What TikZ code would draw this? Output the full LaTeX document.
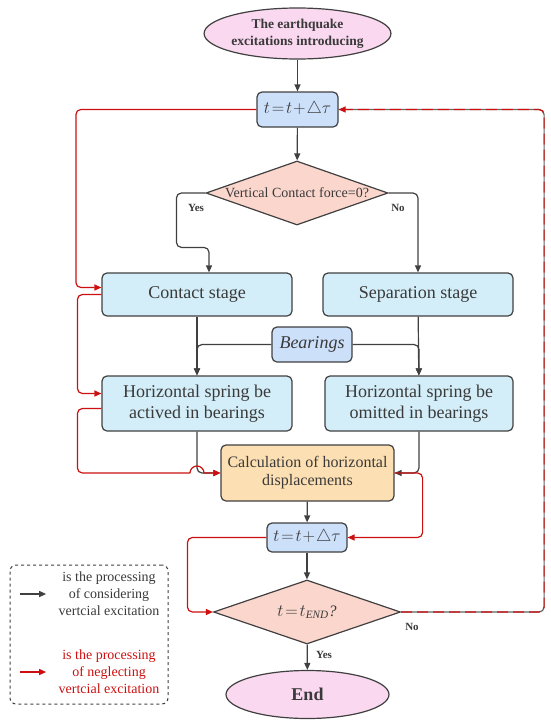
\documentclass[tikz,border=0pt]{standalone}
\usepackage{fontspec}
\setmainfont{Liberation Serif}
\usetikzlibrary{shapes.geometric, arrows.meta, positioning, calc}

\definecolor{linegray}{HTML}{404040}
\definecolor{txtgray}{HTML}{3A3A3A}
\definecolor{loopred}{HTML}{CC1010}
\definecolor{termpink}{HTML}{FAD8F0}
\definecolor{stepblue}{HTML}{CCE0FA}
\definecolor{decpink}{HTML}{FAD6CC}
\definecolor{stagecyan}{HTML}{D3EEF8}
\definecolor{calcorange}{HTML}{FCDFB2}

\begin{document}
\begin{tikzpicture}[
  x=1pt, y=1pt,
  every node/.style={text=txtgray},
  base/.style={draw=linegray, line width=1.2pt, align=center, inner sep=0pt},
  box/.style={base, rectangle, rounded corners=5pt, minimum width=190pt, minimum height=43pt, fill=stagecyan, font=\fontsize{18}{21}\selectfont},
  tbox/.style={box, minimum width=81pt, minimum height=35pt, fill=stepblue},
  decision/.style={base, diamond, shape aspect=2.8, fill=decpink},
  terminal/.style={base, ellipse, fill=termpink, minimum width=163pt},
  arrow/.style={-{Triangle[length=7pt,width=6pt]}, line width=1.2pt, draw=linegray, rounded corners=5pt},
  redarrow/.style={arrow, draw=loopred},
  lbl/.style={font=\bfseries\fontsize{11}{13}\selectfont},
  keytext/.style={align=center, font=\fontsize{14}{17}\selectfont}
]
\useasboundingbox (0,0) rectangle (550,-720);

\node (start) [terminal, minimum height=51pt, font=\bfseries\fontsize{13.5}{17}\selectfont] at (297.5,-33.5) {The earthquake\\excitations introducing};
\node (t1) [tbox] at (297.5,-109.5) {$t\!=\!t\!+\!\triangle\tau$};
\node (d1) [decision, minimum width=182pt, minimum height=64pt, font=\fontsize{14}{16}\selectfont] at (297,-193) {Vertical Contact force=0?};
\node (cont) [box] at (197,-294.5) {Contact stage};
\node (sep) [box] at (418,-294.5) {Separation stage};
\node (bear) [tbox, minimum width=80pt, font=\itshape\fontsize{18}{21}\selectfont] at (312,-344.5) {Bearings};
\node (act) [box, minimum height=55pt] at (197,-403.5) {Horizontal spring be\\actived in bearings};
\node (omit) [box, minimum width=188pt, minimum height=55pt] at (419,-403.5) {Horizontal spring be\\omitted in bearings};
\node (calc) [box, minimum width=173pt, minimum height=56pt, fill=calcorange, font=\fontsize{16}{18}\selectfont] at (307.5,-473) {Calculation of horizontal\\displacements};
\node (t2) [tbox, minimum width=80pt, minimum height=29pt] at (307,-537.5) {$t\!=\!t\!+\!\triangle\tau$};
\node (d2) [decision, minimum width=187pt, minimum height=64pt, font=\itshape\fontsize{16}{18}\selectfont] at (307,-612) {$t\!=\!t_{\mathit{END}}$?};
\node (finish) [terminal, minimum height=48pt, font=\bfseries\fontsize{18}{21}\selectfont] at (307.5,-694.5) {End};

% labels on the branches
\node (yes1) [lbl] at (196,-208) {Yes};
\node (no1) [lbl] at (398,-208) {No};
\node (no2) [lbl] at (412,-627) {No};
\node (yes2) [lbl] at (324,-655) {Yes};

% processing with vertical excitation
\draw [arrow] (start) -- (t1);
\draw [arrow] (t1) -- (d1);
\draw [arrow] (d1.west) -- ++(-29,0) |- ($(cont.north)+(12,25)$) -- ([xshift=12pt]cont.north);
\draw [arrow] (d1.east) -| (sep.north);
\draw [arrow] (cont) -- (act);
\draw [arrow] (sep) -- (omit);
\draw [arrow] (bear.west) -| (act.north);
\draw [arrow] (bear.east) -| (omit.north);
\draw [arrow] (act.south) |- (calc.west);
\draw [arrow] (omit.south) |- (calc.east);
\draw [arrow] (calc) -- (t2);
\draw [arrow] (t2) -- (d2);
\draw [arrow] (d2) -- (finish);
\draw [line width=1.2pt, draw=linegray!80, rounded corners=5pt] (d2.east) -- ++(143,0) |- (t1.east);

% processing without vertical excitation
\coordinate (hop) at ($(act.south |- calc.west)+(-7,0)$);
\draw [redarrow] (t1.west) -- ++(-180.5,0) |- ([yshift=7pt]cont.west);
\draw [redarrow] (cont.west) -- ++(-24,0) |- ([yshift=10pt]act.west);
\draw [line width=1.2pt, draw=loopred, rounded corners=5pt] ([yshift=-5pt]act.west) -- ++(-24,0) |- (hop);
\draw [redarrow, rounded corners=0pt] (hop) arc[start angle=180, end angle=0, radius=7pt] -- (calc.west);
\draw [redarrow] (calc.east) -- ++(28,0) |- (t2.east);
\draw [redarrow] (t2.west) -- ++(-79,0) |- (d2.west);
\draw [redarrow, dash pattern=on 11pt off 5pt] (d2.east) -- ++(143,0) |- (t1.east);

% key
\node (legend) [draw=linegray, line width=1pt, dashed, rounded corners=6pt, minimum width=158pt, minimum height=139pt] at (89,-634.5) {};
\node (keyblack) [keytext] at (109,-594) {is the processing\\of considering\\vertcial excitation};
\node (keyred) [keytext, text=loopred] at (109,-672) {is the processing\\of neglecting\\vertcial excitation};
\draw [arrow] ([xshift=-35pt]keyblack.west) -- ([xshift=-9pt]keyblack.west);
\draw [redarrow] ([xshift=-35pt]keyred.west) -- ([xshift=-9pt]keyred.west);

\end{tikzpicture}
\end{document}
